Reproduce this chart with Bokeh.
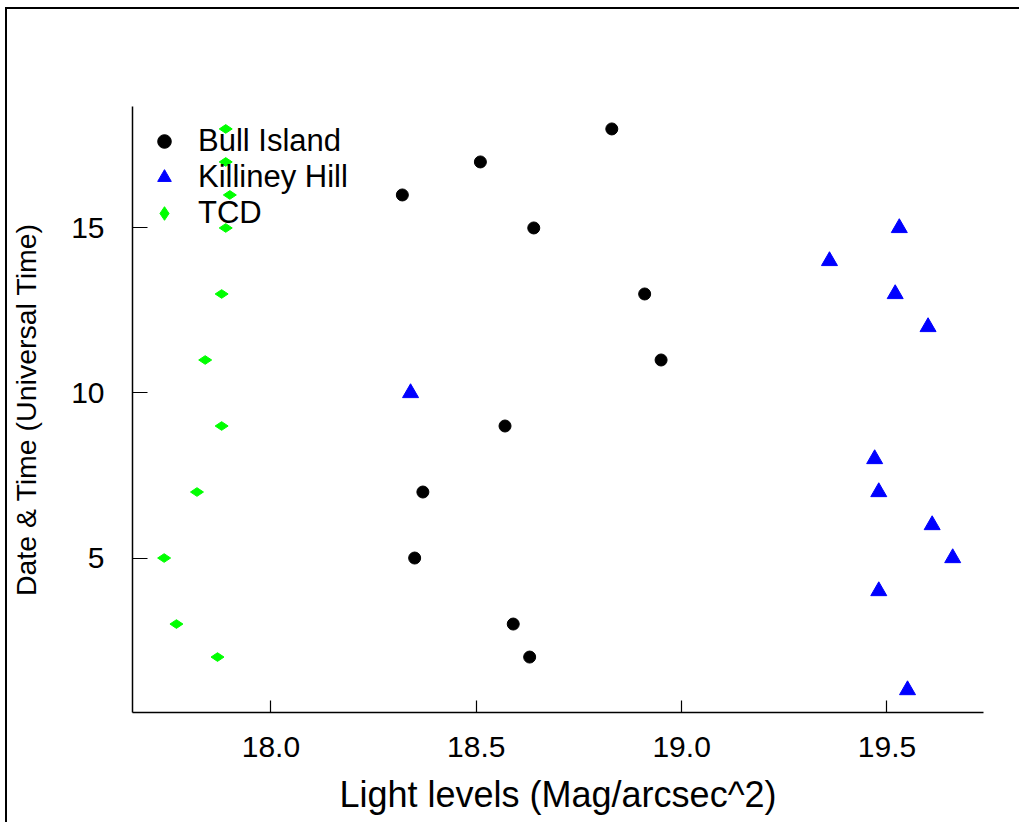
import numpy as np
from bokeh.plotting import figure
from bokeh.models import Range1d, FixedTicker, PrintfTickFormatter, Legend, LegendItem
from bokeh.embed import file_html
from bokeh.resources import INLINE

# ---- data ----
bull_x = [18.83, 18.51, 18.32, 18.64, 18.91, 18.95, 18.57, 18.37, 18.35, 18.59, 18.63]
bull_y = [18, 17, 16, 15, 13, 11, 9, 7, 5, 3, 2]

kill_x = [19.53, 19.36, 19.52, 19.60, 18.34, 19.47, 19.48, 19.61, 19.66, 19.48, 19.55]
kill_y = [15, 14, 13, 12, 10, 8, 7, 6, 5, 4, 1]

tcd_x = [17.89, 17.89, 17.90, 17.89, 17.88, 17.84, 17.88, 17.82, 17.74, 17.77, 17.87]
tcd_y = [18, 17, 16, 15, 13, 11, 9, 7, 5, 3, 2]

series_names = ["Bull Island", "Killiney Hill", "TCD"]
x_ticks = [18.0, 18.5, 19.0, 19.5]
y_ticks = [5, 10, 15]
x_title = "Light levels (Mag/arcsec^2)"
y_title = "Date & Time (Universal Time)"

FONT = "Liberation Sans"

p = figure(width=1014, height=815, output_backend="svg", toolbar_location=None,
           x_range=Range1d(17.663, 19.735), y_range=Range1d(0.32, 18.68),
           min_border_left=118, min_border_right=38, min_border_top=97, min_border_bottom=112)
p.styles = {"border-left": "2px solid black", "border-top": "2px solid black",
            "margin-left": "5px", "margin-top": "7px"}

p.grid.visible = False
p.outline_line_color = None
p.background_fill_color = "white"

r_bull = p.scatter(bull_x, bull_y, marker="circle", size=12, color="black")
r_kill = p.scatter(kill_x, kill_y, marker="triangle", size=16, color="blue")
r_tcd = p.scatter(tcd_x, tcd_y, marker="diamond", size=13, angle=np.pi / 2, color="#00FF00")

for ax in (p.xaxis[0], p.yaxis[0]):
    ax.axis_line_color = "black"
    ax.axis_line_width = 1.5
    ax.major_tick_line_color = "black"
    ax.major_tick_line_width = 1.2
    ax.major_tick_out = 0
    ax.minor_tick_line_color = None
    ax.major_label_text_font = FONT
    ax.major_label_text_color = "black"
    ax.major_label_text_font_size = "30px"
    ax.axis_label_text_font = FONT
    ax.axis_label_text_color = "black"
    ax.axis_label_text_font_style = "normal"

p.xaxis.ticker = FixedTicker(ticks=x_ticks)
p.xaxis.formatter = PrintfTickFormatter(format="%.1f")
p.xaxis.major_tick_in = 12
p.xaxis.major_label_standoff = 24
p.xaxis.axis_label = x_title
p.xaxis.axis_label_text_font_size = "36px"
p.xaxis.axis_label_standoff = 14

p.yaxis.ticker = FixedTicker(ticks=y_ticks)
p.yaxis.major_tick_in = 15
p.yaxis.major_label_orientation = "horizontal"
p.yaxis.major_label_standoff = 28
p.yaxis.axis_label = y_title
p.yaxis.axis_label_text_font_size = "28.5px"
p.yaxis.axis_label_standoff = 26

legend = Legend(items=[LegendItem(label=series_names[0], renderers=[r_bull]),
                       LegendItem(label=series_names[1], renderers=[r_kill]),
                       LegendItem(label=series_names[2], renderers=[r_tcd])],
                location=(15, 481))
legend.border_line_color = None
legend.background_fill_alpha = 0
legend.label_text_font = FONT
legend.label_text_font_size = "31px"
legend.label_text_color = "black"
legend.glyph_width = 34
legend.glyph_height = 34
legend.label_height = 34
legend.label_standoff = 17
legend.spacing = 0
legend.padding = 0
legend.margin = 0
p.add_layout(legend, "center")

open("out.html", "w").write(file_html(p, INLINE))
